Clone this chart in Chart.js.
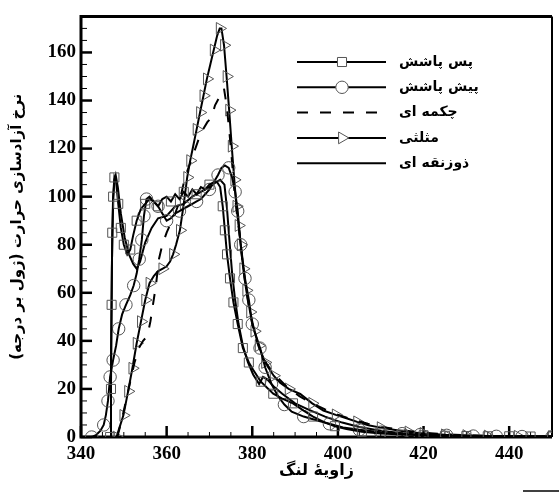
<!DOCTYPE html>
<html>
<head>
<meta charset="utf-8">
<script src="https://cdn.jsdelivr.net/npm/chart.js@4.4.0/dist/chart.umd.min.js"></script>
<style>
  html, body { margin: 0; padding: 0; background: #fff; }
  #wrap { width: 559px; height: 492px; }
  canvas { direction: rtl; }
</style>
</head>
<body>
<div id="wrap"><canvas id="chart" width="559" height="492"></canvas></div>
<script>
// crank angle (deg) / heat release rate (J/deg)
const postX = [346.8, 347.0, 347.15, 347.3, 347.5, 347.8, 348.2, 348.7, 349.3, 350.0,
               350.8, 351.5, 352.2, 353.0, 354.0, 355.0, 356.0, 357.0, 358.0, 359.0,
               360.0, 361.0, 362.0, 363.0, 364.0, 365.0, 366.0, 367.0, 368.0, 369.0,
               370.0, 371.0, 371.8, 372.5, 373.1, 373.6, 374.1, 374.8, 375.6, 376.6,
               377.8, 379.2, 380.2, 382.0, 384.9, 387.0, 389.5, 392.0, 394.2, 397.0,
               399.3, 402.0, 405.6, 410.0, 415.0, 420.0, 425.0, 430.0, 435.0, 440.0,
               445.0, 450.0];
const postY = [0, 20, 55, 85, 100, 108, 106, 97, 87, 80,
               76, 78, 84, 90, 95, 97, 99, 98, 96, 99,
               100, 98, 101, 99, 102, 100, 103, 101, 104, 103,
               105, 106, 106, 104, 96, 86, 76, 66, 56, 47,
               37, 31, 28, 23, 18, 16, 14, 11, 8.5, 6,
               4.5, 3.3, 2.2, 1.5, 1.0, 0.7, 0.5, 0.4, 0.3, 0.3,
               0.2, 0.2];

const preX = [342.5, 343.5, 344.5, 345.3, 345.8, 346.3, 346.8, 347.5, 348.2, 348.8,
              349.6, 350.5, 351.5, 352.3, 353.0, 353.6, 354.2, 354.7, 355.3, 356.0,
              357.0, 358.0, 359.0, 360.0, 361.0, 362.0, 363.0, 364.0, 365.0, 366.0,
              367.0, 368.0, 369.0, 370.0, 371.0, 372.0, 372.8, 373.6, 374.5, 375.3,
              376.0, 376.6, 377.3, 378.3, 379.2, 380.0, 381.8, 383.0, 384.5, 386.0,
              387.5, 389.2, 392.0, 395.0, 398.0, 401.2, 405.0, 410.0, 415.0, 419.2,
              425.4, 431.6, 437.0, 443.0, 450.0];
const preY = [0, 0.8, 2.5, 5, 9, 15, 25, 32, 38, 45,
              51, 55, 59, 63, 68, 74, 82, 92, 99, 100,
              98, 96, 93, 90, 91, 93, 94, 95, 96, 97,
              98, 99, 101, 103, 106, 109, 112, 113, 112, 108,
              102, 94, 80, 66, 57, 47, 37, 29, 22, 17,
              13.5, 10.5, 8.5, 7, 5.5, 4, 3, 2, 1.4, 1,
              0.7, 0.4, 0.3, 0.2, 0.1];

const bootX = [348.5, 349.5, 350.5, 351.5, 352.5, 353.5, 354.5, 355.5, 356.2, 356.8,
               357.5, 358.2, 359.0, 360.0, 361.0, 362.0, 363.0, 364.3, 365.5, 366.5,
               367.5, 368.5, 369.5, 370.5, 371.3, 372.2, 372.9, 373.4, 374.0, 374.6,
               375.2, 375.8, 376.4, 377.0, 377.7, 378.5, 379.5, 380.5, 381.8, 383.5,
               385.5, 388.0, 391.0, 394.0, 397.0, 400.0, 403.0, 407.0, 411.0, 415.0,
               420.0, 426.0, 432.0, 440.0, 450.0];
const bootY = [0, 7, 15, 23, 31, 37, 40, 42, 48, 55,
               63, 74, 80, 85, 89, 93, 98, 108, 114, 119,
               124, 128, 131, 133, 138, 141, 143, 145, 138, 128,
               116, 103, 93, 85, 73, 62, 51, 43, 36, 30,
               25.5, 21, 17, 14, 11.5, 9.3, 7.5, 5.5, 4, 2.8,
               1.8, 1, 0.6, 0.3, 0.2];

const triX = [348.3, 349.0, 349.9, 351.0, 352.0, 353.0, 354.0, 355.0, 356.0, 357.0,
              358.0, 359.0, 360.0, 360.8, 361.5, 362.2, 363.1, 364.0, 364.8, 365.5,
              366.2, 367.0, 367.8, 368.6, 369.4, 370.2, 371.0, 371.8, 372.4, 372.8,
              373.4, 374.0, 374.6, 375.2, 375.8, 376.3, 376.8, 377.3, 377.9, 378.6,
              379.5, 380.5, 381.5, 383.0, 385.0, 386.5, 388.5, 391.2, 394.0, 396.6,
              399.5, 402.0, 404.5, 407.1, 410.0, 413.4, 416.5, 420.0, 425.0, 430.0,
              435.0, 442.0, 450.0];
const triY = [0, 4, 9, 19, 28.6, 39, 48, 57, 64, 67,
              69, 70, 71, 73, 76, 80, 86, 97, 108, 115,
              121, 128, 135, 142, 149, 155, 161, 167, 170, 170,
              163, 150, 136, 121, 107, 96, 88, 80, 70, 61,
              52, 44, 38, 31, 25.5, 22.6, 20, 17.9, 14, 11,
              9.2, 7.8, 6.3, 4.9, 3.9, 2.9, 2.1, 1.5, 0.9, 0.6,
              0.4, 0.3, 0.2];

const trapX = [346.8, 347.0, 347.2, 347.5, 347.8, 348.1, 348.6, 349.3, 350.2, 351.2,
               352.2, 353.0, 353.8, 355.0, 356.5, 358.0, 360.0, 362.0, 364.0, 366.0,
               368.0, 370.0, 371.5, 372.5, 373.5, 374.1, 374.7, 375.3, 376.0, 376.8,
               377.8, 379.0, 380.2, 381.6, 382.5, 383.5, 385.0, 387.0, 390.0, 393.0,
               397.0, 401.0, 405.0, 410.0, 415.0, 420.0, 430.0, 440.0, 450.0];
const trapY = [0, 30, 70, 98, 107, 109, 104, 93, 83, 76,
               72, 70, 73, 81, 87, 91, 92, 96, 97, 100,
               102, 104, 106, 107, 105, 95, 81, 68, 57, 47,
               38, 31, 26, 22, 25, 24, 21, 18, 14, 11.5,
               8.5, 6, 4.2, 2.6, 1.6, 1, 0.5, 0.3, 0.2];

const labels = ['پس پاشش', 'پیش پاشش', 'چکمه ای', 'مثلثی', 'ذوزنقه ای'];

const xTitle = 'زاویهٔ لنگ';
const yTitle = 'نرخ آزادسازی حرارت (ژول بر درجه)';

function pts(xs, ys) {
    return xs.map((x, i) => ({ x: x, y: ys[i] }));
}

// symbols every ~N px along the curve, like the original plot
function buildMasks(chart) {
    const xs = chart.scales.x, ys = chart.scales.y;
    chart.data.datasets.forEach(ds => {
        const gap = ds.markGap || 0;
        let acc = gap, prev = null;
        ds.mask = ds.data.map(p => {
            const px = xs.getPixelForValue(p.x), py = ys.getPixelForValue(p.y);
            if (prev) acc += Math.hypot(px - prev[0], py - prev[1]);
            prev = [px, py];
            if (gap && acc >= gap) { acc = 0; return true; }
            return false;
        });
    });
}

const markerRadius = ctx => (ctx.dataset.mask && ctx.dataset.mask[ctx.dataIndex]) ? ctx.dataset.markR : 0;

function series(label, data, style, r, rot, gap, dash) {
    return {
        label: label,
        data: data,
        borderColor: '#000',
        borderWidth: 2,
        borderDash: dash || [],
        pointStyle: style,
        pointRotation: rot,
        pointBorderColor: '#555',
        pointBackgroundColor: 'rgba(0,0,0,0)',
        pointBorderWidth: 1,
        markR: r,
        markGap: gap,
        pointRadius: markerRadius,
        pointHoverRadius: markerRadius,
        tension: 0
    };
}

const frameTicks = {
    id: 'frameTicks',
    afterLayout(chart) { buildMasks(chart); },
    beforeDatasetsDraw(chart) {
        const { ctx, chartArea: a, scales: { x, y } } = chart;
        ctx.save();
        ctx.strokeStyle = '#000';
        x.ticks.forEach(t => {
            const px = x.getPixelForValue(t.value);
            const major = t.value % 20 === 0;
            ctx.lineWidth = major ? 2.5 : 1;
            ctx.beginPath();
            ctx.moveTo(px, a.bottom);
            ctx.lineTo(px, a.bottom - (major ? 11 : 5));
            ctx.stroke();
        });
        y.ticks.forEach(t => {
            const py = y.getPixelForValue(t.value);
            const major = t.value % 20 === 0;
            ctx.lineWidth = major ? 2.5 : 1;
            ctx.beginPath();
            ctx.moveTo(a.left, py);
            ctx.lineTo(a.left + (major ? 11 : 6), py);
            ctx.stroke();
        });
        ctx.lineWidth = 3;
        ctx.beginPath();
        ctx.moveTo(a.right, a.top);
        ctx.lineTo(a.left, a.top);
        ctx.lineTo(a.left, a.bottom);
        ctx.lineTo(a.right, a.bottom);
        ctx.stroke();
        ctx.lineWidth = 2;
        ctx.beginPath();
        ctx.moveTo(a.right, a.top);
        ctx.lineTo(a.right, a.bottom);
        ctx.stroke();
        // small stroke at the lower right corner of the figure
        ctx.lineWidth = 1.5;
        ctx.beginPath();
        ctx.moveTo(523, 491);
        ctx.lineTo(559, 491);
        ctx.stroke();
        ctx.restore();
    },
    afterDatasetsDraw(chart) {
        const ctx = chart.ctx;
        const x1 = 297, x2 = 386, mid = 342, textX = 399, y0 = 62, dy = 25.3;
        ctx.save();
        chart.data.datasets.forEach((ds, i) => {
            const yy = y0 + i * dy;
            ctx.strokeStyle = '#000';
            ctx.lineWidth = 2;
            ctx.setLineDash(ds.borderDash);
            ctx.beginPath();
            ctx.moveTo(x1, yy);
            ctx.lineTo(x2, yy);
            ctx.stroke();
            ctx.setLineDash([]);
            if (ds.markGap) {
                ctx.strokeStyle = '#555';
                ctx.fillStyle = '#fff';
                ctx.lineWidth = 1;
                Chart.helpers.drawPoint(ctx, {
                    pointStyle: ds.pointStyle,
                    rotation: ds.pointRotation,
                    radius: ds.markR,
                    borderWidth: 1
                }, mid, yy);
            }
            ctx.fillStyle = '#000';
            ctx.font = 'bold 14px "DejaVu Sans"';
            ctx.textAlign = 'left';
            ctx.textBaseline = 'middle';
            ctx.fillText(ds.label, textX, yy);
        });
        ctx.restore();
    }
};

const tickFont = { family: '"Liberation Serif", "Times New Roman", serif', size: 19, weight: 'bold' };

new Chart(document.getElementById('chart'), {
    type: 'line',
    data: {
        datasets: [
            series(labels[0], pts(postX, postY), 'rect', 6.4, 0, 15),
            series(labels[1], pts(preX, preY), 'circle', 6.2, 0, 16),
            series(labels[2], pts(bootX, bootY), 'line', 0, 0, 0, [11, 12]),
            series(labels[3], pts(triX, triY), 'triangle', 6.8, 90, 15),
            series(labels[4], pts(trapX, trapY), 'line', 0, 0, 0)
        ]
    },
    options: {
        responsive: false,
        devicePixelRatio: 1,
        animation: false,
        events: [],
        layout: { padding: { top: 10, right: 7, left: 0, bottom: 0 } },
        plugins: { legend: { display: false }, tooltip: { enabled: false } },
        scales: {
            x: {
                type: 'linear',
                min: 340,
                max: 450,
                afterFit: s => { s.height = 55; },
                grid: { display: false, drawTicks: false },
                border: { display: false },
                ticks: {
                    stepSize: 5,
                    autoSkip: false,
                    maxRotation: 0,
                    padding: 6,
                    color: '#000',
                    font: tickFont,
                    callback: v => (v % 20 === 0 ? v : '')
                },
                title: {
                    display: true,
                    text: xTitle,
                    color: '#000',
                    font: { family: '"DejaVu Sans"', size: 16, weight: 'bold' },
                    padding: { top: 0, bottom: 12 }
                }
            },
            y: {
                min: 0,
                max: 175,
                afterFit: s => { s.width = 81; },
                grid: { display: false, drawTicks: false },
                border: { display: false },
                ticks: {
                    stepSize: 5,
                    autoSkip: false,
                    padding: 5,
                    color: '#000',
                    font: tickFont,
                    callback: v => (v % 20 === 0 ? v : '')
                },
                title: {
                    display: true,
                    text: yTitle,
                    color: '#000',
                    font: { family: '"DejaVu Sans"', size: 15, weight: 'bold' },
                    padding: { top: 8, bottom: 0 }
                }
            }
        }
    },
    plugins: [frameTicks]
});
</script>
</body>
</html>
